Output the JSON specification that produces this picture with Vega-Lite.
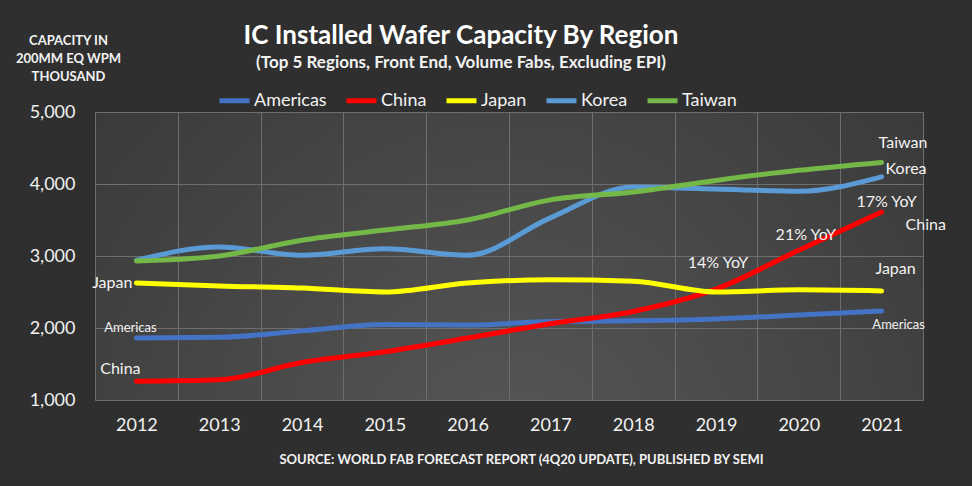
{
  "$schema": "https://vega.github.io/schema/vega-lite/v6.json",
  "width": 828,
  "height": 288,
  "autosize": {"type": "none"},
  "padding": {"left": 95, "top": 112, "right": 49, "bottom": 86},
  "background": "#2f2f2f",
  "config": {
    "font": "Lato",
    "view": {
      "stroke": null,
      "fill": {"gradient": "radial", "x1": 0.5, "y1": 0.75, "x2": 0.5, "y2": 0.75, "r1": 0, "r2": 0.75,
        "stops": [{"offset": 0, "color": "#575757"}, {"offset": 1, "color": "#363636"}]}
    },
    "text": {"font": "Lato", "color": "#f2f2f2"}
  },
  "title": {
    "text": "IC Installed Wafer Capacity By Region",
    "subtitle": "(Top 5 Regions, Front End, Volume Fabs, Excluding EPI)",
    "anchor": "middle",
    "dx": -48,
    "offset": -37,
    "font": "Lato",
    "fontSize": 26,
    "fontWeight": "bold",
    "color": "#ffffff",
    "subtitleFont": "Lato",
    "subtitleFontSize": 17,
    "subtitleFontWeight": "bold",
    "subtitleColor": "#f2f2f2",
    "subtitlePadding": 6
  },
  "data": {
    "values": [
      {"year": "2012", "region": "Americas", "value": 1860},
      {"year": "2013", "region": "Americas", "value": 1870},
      {"year": "2014", "region": "Americas", "value": 1960},
      {"year": "2015", "region": "Americas", "value": 2050},
      {"year": "2016", "region": "Americas", "value": 2040},
      {"year": "2017", "region": "Americas", "value": 2090},
      {"year": "2018", "region": "Americas", "value": 2100},
      {"year": "2019", "region": "Americas", "value": 2125},
      {"year": "2020", "region": "Americas", "value": 2180},
      {"year": "2021", "region": "Americas", "value": 2235},
      {"year": "2012", "region": "China", "value": 1260},
      {"year": "2013", "region": "China", "value": 1280},
      {"year": "2014", "region": "China", "value": 1520},
      {"year": "2015", "region": "China", "value": 1670},
      {"year": "2016", "region": "China", "value": 1860},
      {"year": "2017", "region": "China", "value": 2060},
      {"year": "2018", "region": "China", "value": 2230},
      {"year": "2019", "region": "China", "value": 2540},
      {"year": "2020", "region": "China", "value": 3080},
      {"year": "2021", "region": "China", "value": 3610},
      {"year": "2012", "region": "Japan", "value": 2625},
      {"year": "2013", "region": "Japan", "value": 2585},
      {"year": "2014", "region": "Japan", "value": 2555},
      {"year": "2015", "region": "Japan", "value": 2500},
      {"year": "2016", "region": "Japan", "value": 2625},
      {"year": "2017", "region": "Japan", "value": 2670},
      {"year": "2018", "region": "Japan", "value": 2650},
      {"year": "2019", "region": "Japan", "value": 2500},
      {"year": "2020", "region": "Japan", "value": 2530},
      {"year": "2021", "region": "Japan", "value": 2515},
      {"year": "2012", "region": "Korea", "value": 2940},
      {"year": "2013", "region": "Korea", "value": 3125},
      {"year": "2014", "region": "Korea", "value": 3010},
      {"year": "2015", "region": "Korea", "value": 3100},
      {"year": "2016", "region": "Korea", "value": 3010},
      {"year": "2017", "region": "Korea", "value": 3530},
      {"year": "2018", "region": "Korea", "value": 3960},
      {"year": "2019", "region": "Korea", "value": 3930},
      {"year": "2020", "region": "Korea", "value": 3900},
      {"year": "2021", "region": "Korea", "value": 4100},
      {"year": "2012", "region": "Taiwan", "value": 2930},
      {"year": "2013", "region": "Taiwan", "value": 3000},
      {"year": "2014", "region": "Taiwan", "value": 3220},
      {"year": "2015", "region": "Taiwan", "value": 3360},
      {"year": "2016", "region": "Taiwan", "value": 3500},
      {"year": "2017", "region": "Taiwan", "value": 3780},
      {"year": "2018", "region": "Taiwan", "value": 3890},
      {"year": "2019", "region": "Taiwan", "value": 4050},
      {"year": "2020", "region": "Taiwan", "value": 4190},
      {"year": "2021", "region": "Taiwan", "value": 4300}
    ]
  },
  "encoding": {
    "x": {
      "field": "year", "type": "ordinal", "bandPosition": 0.5,
      "scale": {"type": "band", "paddingInner": 0, "paddingOuter": 0},
      "axis": {
        "title": "SOURCE: WORLD FAB FORECAST REPORT (4Q20 UPDATE), PUBLISHED BY SEMI",
        "titleFont": "Lato", "titleFontSize": 13, "titleFontWeight": "bold", "titleColor": "#f2f2f2",
        "titleX": 426, "titleY": 63, "titleBaseline": "alphabetic", "titleAlign": "center",
        "labelAngle": 0, "labelFont": "Lato", "labelFontSize": 18, "labelColor": "#f2f2f2", "labelPadding": 16,
        "tickBand": "extent", "grid": true, "gridColor": "#6e6e6e", "gridWidth": 1,
        "domain": false, "ticks": false
      }
    },
    "y": {
      "field": "value", "type": "quantitative",
      "scale": {"domain": [1000, 5000], "nice": false, "zero": false},
      "axis": {
        "values": [1000, 2000, 3000, 4000, 5000], "format": ",.0f",
        "title": ["CAPACITY IN", "200MM EQ WPM", "THOUSAND"],
        "titleFont": "Lato", "titleFontSize": 13, "titleFontWeight": "bold", "titleColor": "#f2f2f2",
        "titleAngle": 0, "titleX": -27, "titleY": -78, "titleAlign": "center", "titleBaseline": "top", "titleLineHeight": 18,
        "labelFont": "Lato", "labelFontSize": 18, "labelColor": "#f2f2f2", "labelPadding": 20,
        "grid": true, "gridColor": "#6e6e6e", "gridWidth": 1, "domain": false, "ticks": false
      }
    }
  },
  "layer": [
    {
      "mark": {"type": "line", "interpolate": "monotone", "strokeWidth": 5, "strokeCap": "round"},
      "encoding": {
        "color": {
          "field": "region", "type": "nominal",
          "scale": {"domain": ["Americas", "China", "Japan", "Korea", "Taiwan"],
            "range": ["#4472C4", "#FF0000", "#FFFF00", "#5B9BD5", "#74B848"]},
          "legend": {
            "title": null, "orient": "none", "direction": "horizontal", "legendX": 122, "legendY": -29,
            "symbolType": "stroke", "symbolSize": 900, "symbolStrokeWidth": 5,
            "labelFont": "Lato", "labelFontSize": 18, "labelColor": "#f2f2f2", "labelOffset": 2,
            "columnPadding": 9
          }
        }
      }
    },
    {"transform": [{"filter": "datum.region == 'Japan' && datum.year == '2012'"}],
     "mark": {"type": "text", "align": "right", "baseline": "middle", "dx": -4, "dy": 0, "fontSize": 16},
     "encoding": {"text": {"value": "Japan"}}},
    {"transform": [{"filter": "datum.region == 'Americas' && datum.year == '2012'"}],
     "mark": {"type": "text", "align": "center", "baseline": "middle", "dx": -6, "dy": -10, "fontSize": 13},
     "encoding": {"text": {"value": "Americas"}}},
    {"transform": [{"filter": "datum.region == 'China' && datum.year == '2012'"}],
     "mark": {"type": "text", "align": "center", "baseline": "middle", "dx": -16, "dy": -12, "fontSize": 16},
     "encoding": {"text": {"value": "China"}}},
    {"transform": [{"filter": "datum.region == 'Taiwan' && datum.year == '2021'"}],
     "mark": {"type": "text", "align": "left", "baseline": "middle", "dx": -3, "dy": -19, "fontSize": 16},
     "encoding": {"text": {"value": "Taiwan"}}},
    {"transform": [{"filter": "datum.region == 'Korea' && datum.year == '2021'"}],
     "mark": {"type": "text", "align": "left", "baseline": "middle", "dx": 4, "dy": -8, "fontSize": 16},
     "encoding": {"text": {"value": "Korea"}}},
    {"transform": [{"filter": "datum.region == 'China' && datum.year == '2021'"}],
     "mark": {"type": "text", "align": "center", "baseline": "middle", "dx": 5, "dy": -10, "fontSize": 16},
     "encoding": {"text": {"value": "17% YoY"}}},
    {"transform": [{"filter": "datum.region == 'China' && datum.year == '2021'"}],
     "mark": {"type": "text", "align": "left", "baseline": "middle", "dx": 24, "dy": 13, "fontSize": 16},
     "encoding": {"text": {"value": "China"}}},
    {"transform": [{"filter": "datum.region == 'China' && datum.year == '2020'"}],
     "mark": {"type": "text", "align": "center", "baseline": "middle", "dx": 7, "dy": -15, "fontSize": 16},
     "encoding": {"text": {"value": "21% YoY"}}},
    {"transform": [{"filter": "datum.region == 'China' && datum.year == '2019'"}],
     "mark": {"type": "text", "align": "center", "baseline": "middle", "dx": 2, "dy": -26, "fontSize": 16},
     "encoding": {"text": {"value": "14% YoY"}}},
    {"transform": [{"filter": "datum.region == 'Japan' && datum.year == '2021'"}],
     "mark": {"type": "text", "align": "center", "baseline": "middle", "dx": 14, "dy": -22, "fontSize": 16},
     "encoding": {"text": {"value": "Japan"}}},
    {"transform": [{"filter": "datum.region == 'Americas' && datum.year == '2021'"}],
     "mark": {"type": "text", "align": "center", "baseline": "middle", "dx": 17, "dy": 14, "fontSize": 13},
     "encoding": {"text": {"value": "Americas"}}}
  ]
}
